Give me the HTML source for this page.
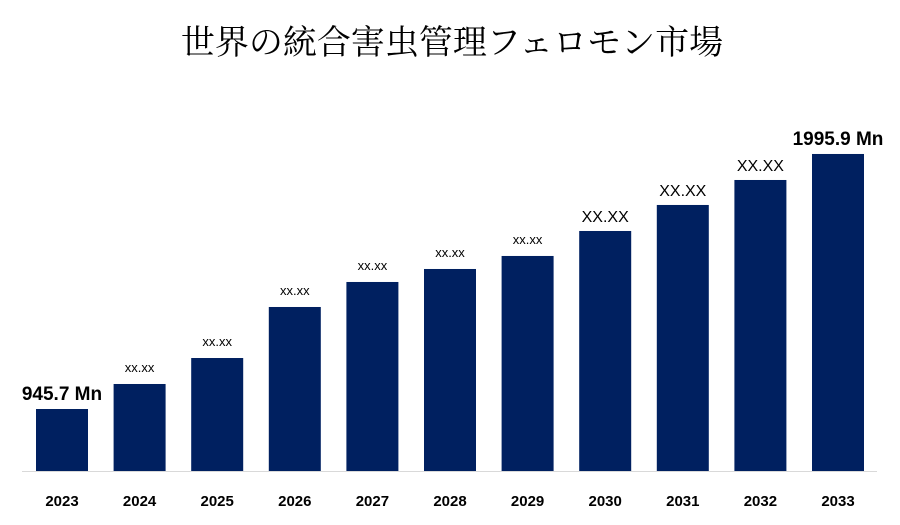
<!DOCTYPE html>
<html><head><meta charset="utf-8"><style>
body{margin:0;background:#fff;width:900px;height:525px;overflow:hidden}
svg{display:block}
</style></head><body>
<svg id="chart" width="900" height="525" xmlns="http://www.w3.org/2000/svg">
<text x="452" y="54" text-anchor="middle" font-family="'Liberation Serif','Noto Serif CJK SC','Noto Sans CJK JP',serif" font-size="34" fill="#000">世界の統合害虫管理フェロモン市場</text>
<line x1="22" y1="471.5" x2="877" y2="471.5" stroke="#d9d9d9" stroke-width="1"/>
<g id="bars"></g>
</svg>
<script>
const categories=["2023","2024","2025","2026","2027","2028","2029","2030","2031","2032","2033"];
const values=[945.7,1048.7,1155.7,1365.8,1468.8,1522.3,1575.9,1678.8,1785.9,1888.8,1995.9];
const labels=["945.7 Mn","xx.xx","xx.xx","xx.xx","xx.xx","xx.xx","xx.xx","XX.XX","XX.XX","XX.XX","1995.9 Mn"];
const labelSizes=[19,13,13,13,13,13,13,16,16,16,19];
const yMin=690.4, baseY=471, pxPerUnit=1/4.118;
function y(v){return baseY-(v-yMin)*pxPerUnit;}
function xc(i){return 62+i*77.6;}
const g=document.getElementById('bars');
const NS="http://www.w3.org/2000/svg";
categories.forEach((c,i)=>{
  const top=y(values[i]);
  const r=document.createElementNS(NS,'rect');
  
  
  r.setAttribute('x',xc(i)-26);r.setAttribute('width',52);
  r.setAttribute('y',top);r.setAttribute('height',baseY-top);
  r.setAttribute('fill','#002060');
  g.appendChild(r);
  const t=document.createElementNS(NS,'text');
  
  
  t.setAttribute('x',xc(i));t.setAttribute('y',top-(labelSizes[i]>15?9:12));
  t.setAttribute('text-anchor','middle');
  t.setAttribute('font-family','Liberation Sans, sans-serif');
  t.setAttribute('font-size',labelSizes[i]);
  if(labelSizes[i]>18)t.setAttribute('font-weight','bold');
  t.textContent=labels[i];
  g.appendChild(t);
  const a=document.createElementNS(NS,'text');
  
  
  a.setAttribute('x',xc(i));a.setAttribute('y',506);
  a.setAttribute('text-anchor','middle');
  a.setAttribute('font-family','Liberation Sans, sans-serif');
  a.setAttribute('font-size',15);a.setAttribute('font-weight','bold');
  a.textContent=c;
  g.appendChild(a);
});
</script>
</body></html>
